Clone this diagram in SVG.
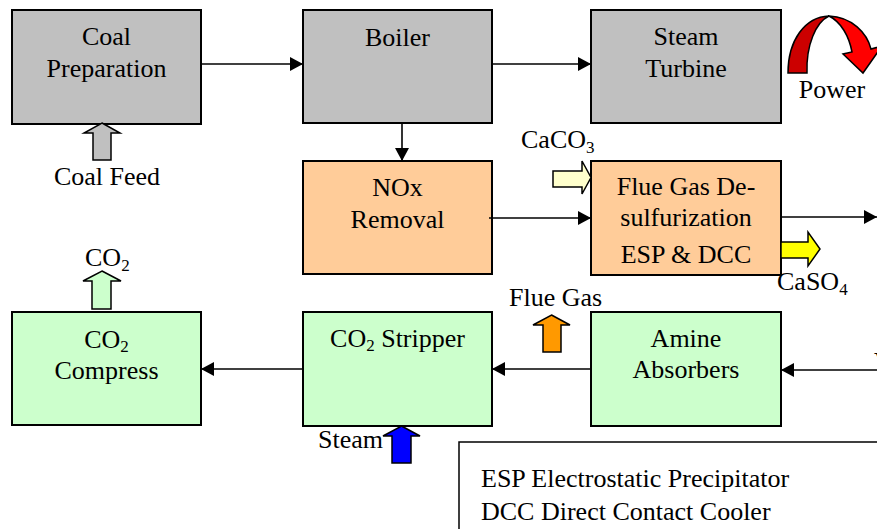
<svg xmlns="http://www.w3.org/2000/svg" width="877" height="529" viewBox="0 0 877 529">
<defs>
<style>
.t text{font-size:26px;fill:#000}
.c{text-anchor:middle}
.box{stroke:#000;stroke-width:2}
.gray{fill:#c0c0c0}
.orange{fill:#ffcc99}
.green{fill:#ccffcc}
.conn line{stroke:#000;stroke-width:1.6;fill:none}
.blk{stroke:#000;stroke-width:1.5}
.sub{font-size:17px}
</style>
<marker id="ah" markerUnits="userSpaceOnUse" markerWidth="14" markerHeight="14" refX="13" refY="7" orient="auto">
<path d="M0,0 L13,7 L0,14 Z" fill="#000"/>
</marker>
</defs>
<rect width="877" height="529" fill="#fff"/>
<g class="t" font-family="Liberation Serif, Times New Roman, DejaVu Serif, serif">
<g id="coal-prep">
<rect class="box gray" x="12" y="10" width="189" height="114"/>
<text class="c" x="106.5" y="45">Coal</text>
<text class="c" x="106.5" y="77">Preparation</text>
</g>
<g id="boiler">
<rect class="box gray" x="303" y="10" width="189" height="113"/>
<text class="c" x="397.5" y="46">Boiler</text>
</g>
<g id="steam-turbine">
<rect class="box gray" x="591" y="10" width="190" height="113"/>
<text class="c" x="686" y="45">Steam</text>
<text class="c" x="686" y="77">Turbine</text>
</g>
<g id="power">
<path class="blk" d="M788,73 C788,40 805,17 829,16 C816,22 806,45 807,73 Z" fill="#cc0000"/>
<path class="blk" d="M829,16 C852,17 867,33 871,49 L882,46 L863,73 L843,54 L852,52 C849,36 841,22 829,16 Z" fill="#ff0000"/>
<text class="c" x="832" y="98">Power</text>
</g>
<g id="nox">
<rect class="box orange" x="303" y="161" width="189" height="113"/>
<text class="c" x="397.5" y="196">NOx</text>
<text class="c" x="397.5" y="228">Removal</text>
</g>
<g id="fgd">
<rect class="box orange" x="591" y="161" width="190" height="114"/>
<text class="c" x="686" y="195">Flue Gas De-</text>
<text class="c" x="686" y="226">sulfurization</text>
<text class="c" x="686" y="263">ESP &amp; DCC</text>
</g>
<g id="co2-compress">
<rect class="box green" x="12" y="312" width="189" height="113"/>
<text class="c" x="106.5" y="348">CO<tspan class="sub" dy="4">2</tspan></text>
<text class="c" x="106.5" y="379">Compress</text>
</g>
<g id="co2-stripper">
<rect class="box green" x="303" y="312" width="189" height="114"/>
<text class="c" x="397.5" y="347">CO<tspan class="sub" dy="4">2</tspan><tspan dy="-4"> Stripper</tspan></text>
</g>
<g id="amine">
<rect class="box green" x="591" y="312" width="190" height="114"/>
<text class="c" x="686" y="347">Amine</text>
<text class="c" x="686" y="378">Absorbers</text>
</g>

<g id="coal-feed">
<path class="blk" d="M102,123 L120,133 L111,133 L111,160 L93,160 L93,133 L84,133 Z" fill="#c0c0c0"/>
<text class="c" x="107" y="185">Coal Feed</text>
</g>
<g id="caco3">
<path class="blk" d="M553,171 L582,171 L582,161 L591,177.5 L582,194 L582,187 L553,187 Z" fill="#ffffcc"/>
<text x="521" y="148">CaCO<tspan class="sub" dy="5">3</tspan></text>
</g>
<g id="caso4">
<path class="blk" d="M781,242 L808,242 L808,232 L820,249 L808,266 L808,258 L781,258 Z" fill="#ffff00"/>
<text x="777" y="290">CaSO<tspan class="sub" dy="5">4</tspan></text>
</g>
<g id="co2-out">
<path class="blk" d="M102,271 L121,281 L111,281 L111,309 L92,309 L92,281 L83,281 Z" fill="#ccffcc"/>
<text x="85" y="266">CO<tspan class="sub" dy="5">2</tspan></text>
</g>
<g id="flue-gas">
<path class="blk" d="M551.5,315 L570,325 L561,325 L561,352 L543,352 L543,325 L533,325 Z" fill="#ff9900"/>
<text x="509" y="306">Flue Gas</text>
</g>
<g id="steam">
<path class="blk" d="M401.5,426 L420,436 L411,436 L411,463 L392,463 L392,436 L383,436 Z" fill="#0000ff"/>
<text x="318" y="448">Steam</text>
</g>
<g id="edge-label">
<text x="874" y="370">V</text>
</g>

<g class="conn" id="connectors">
<line x1="201" y1="64" x2="303" y2="64" marker-end="url(#ah)"/>
<line x1="492" y1="64" x2="591" y2="64" marker-end="url(#ah)"/>
<line x1="402" y1="123" x2="402" y2="161" marker-end="url(#ah)"/>
<line x1="489" y1="218" x2="591" y2="218" marker-end="url(#ah)"/>
<line x1="781" y1="217" x2="877" y2="217" marker-end="url(#ah)"/>
<line x1="877" y1="370" x2="781" y2="370" marker-end="url(#ah)"/>
<line x1="591" y1="369" x2="492" y2="369" marker-end="url(#ah)"/>
<line x1="303" y1="369" x2="201" y2="369" marker-end="url(#ah)"/>
</g>

<g id="legend">
<rect x="459" y="442" width="440" height="110" fill="#fff" stroke="#000" stroke-width="1.5"/>
<text x="481" y="487">ESP Electrostatic Precipitator</text>
<text x="481" y="520">DCC Direct Contact Cooler</text>
</g>
</g>
</svg>
